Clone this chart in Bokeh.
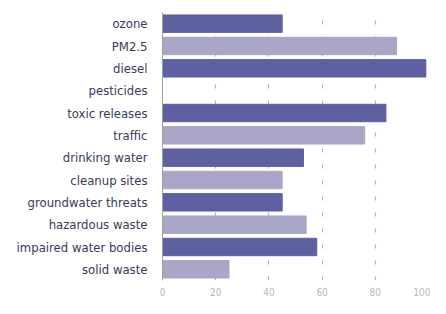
from bokeh.plotting import figure
from bokeh.models import ColumnDataSource, FactorRange
from bokeh.embed import file_html
from bokeh.resources import INLINE

categories = ["ozone", "PM2.5", "diesel", "pesticides", "toxic releases", "traffic",
              "drinking water", "cleanup sites", "groundwater threats", "hazardous waste",
              "impaired water bodies", "solid waste"]
values = [45, 88, 99, 0, 84, 76, 53, 45, 45, 54, 58, 25]
dark = "#5f60a1"
light = "#a9a6c7"
colors = [dark if i % 2 == 0 else light for i in range(len(categories))]
x_ticks = [0, 20, 40, 60, 80, 100]

FONT = "'Liberation Sans Narrow', 'DejaVu Sans Condensed', 'Roboto Condensed', 'Roboto', sans-serif"

src = ColumnDataSource(dict(cat=categories, val=values, color=colors))

p = figure(width=430, height=298, output_backend="svg", toolbar_location=None,
           y_range=FactorRange(*reversed(categories), range_padding=0),
           x_range=(0, 100))
p.hbar(y="cat", right="val", left=0, height=0.78, color="color", source=src)

p.min_border_left = 162
p.min_border_right = 2
p.min_border_top = 12
p.min_border_bottom = 9
p.outline_line_color = None
p.background_fill_color = "white"

p.ygrid.grid_line_color = None
p.xgrid.grid_line_color = "#b4b4b4"
p.xgrid.grid_line_dash = "4 12"
p.xgrid.grid_line_width = 1.2

p.xaxis.ticker = x_ticks
p.xaxis.axis_line_color = None
p.xaxis.major_tick_line_color = None
p.xaxis.minor_tick_line_color = None
p.xaxis.major_label_text_color = "#b8b8b8"
p.xaxis.major_label_text_font = FONT
p.xaxis.major_label_text_font_size = "10px"
p.xaxis.major_label_standoff = 1

p.yaxis.axis_line_color = "#a0a0a0"
p.yaxis.major_tick_line_color = None
p.yaxis.minor_tick_line_color = None
p.yaxis.major_label_text_color = "#3a3a58"
p.yaxis.major_label_text_font = FONT
p.yaxis.major_label_text_font_size = "13px"
p.yaxis.major_label_standoff = 9

open("out.html", "w").write(file_html(p, INLINE))
